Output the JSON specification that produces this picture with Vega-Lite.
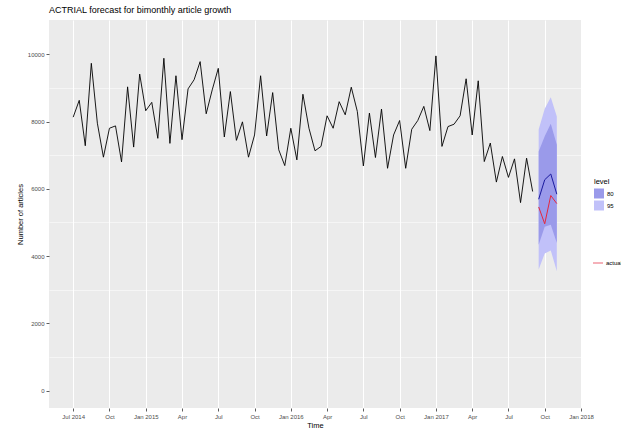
{
  "$schema": "https://vega.github.io/schema/vega-lite/v6.json",
  "width": 532,
  "height": 388,
  "autosize": {"type": "none"},
  "padding": {"left": 49, "top": 20, "right": 40, "bottom": 20},
  "background": "white",
  "title": {
    "text": "ACTRIAL forecast for bimonthly article growth",
    "anchor": "start",
    "frame": "group",
    "fontSize": 9,
    "fontWeight": "normal",
    "color": "#000000",
    "offset": 5
  },
  "config": {
    "font": "Liberation Sans",
    "view": {"fill": "#EBEBEB", "stroke": null},
    "axis": {
      "domain": false,
      "grid": true,
      "gridColor": "#FFFFFF",
      "gridWidth": 1,
      "tickColor": "#333333",
      "tickSize": 3,
      "tickWidth": 0.8,
      "labelFontSize": 6,
      "labelColor": "#4D4D4D",
      "labelPadding": 2,
      "titleFontSize": 7.5,
      "titleFontWeight": "normal",
      "titleColor": "#000000"
    },
    "legend": {
      "padding": 0,
      "labelFontSize": 6,
      "labelColor": "#000000",
      "titleFontSize": 7.5,
      "titleFontWeight": "normal",
      "titleColor": "#000000"
    }
  },
  "datasets": {
    "history": [
      {"time": 2014.5, "articles": 8130},
      {"time": 2014.5417, "articles": 8630},
      {"time": 2014.5833, "articles": 7280},
      {"time": 2014.625, "articles": 9730},
      {"time": 2014.6667, "articles": 7950},
      {"time": 2014.7083, "articles": 6940},
      {"time": 2014.75, "articles": 7800},
      {"time": 2014.7917, "articles": 7870},
      {"time": 2014.8333, "articles": 6800},
      {"time": 2014.875, "articles": 9030},
      {"time": 2014.9167, "articles": 7240},
      {"time": 2014.9583, "articles": 9410},
      {"time": 2015.0, "articles": 8320},
      {"time": 2015.0417, "articles": 8570},
      {"time": 2015.0833, "articles": 7500},
      {"time": 2015.125, "articles": 9880},
      {"time": 2015.1667, "articles": 7350},
      {"time": 2015.2083, "articles": 9360},
      {"time": 2015.25, "articles": 7460},
      {"time": 2015.2917, "articles": 8970},
      {"time": 2015.3333, "articles": 9240},
      {"time": 2015.375, "articles": 9780},
      {"time": 2015.4167, "articles": 8230},
      {"time": 2015.4583, "articles": 8940},
      {"time": 2015.5, "articles": 9580},
      {"time": 2015.5417, "articles": 7540},
      {"time": 2015.5833, "articles": 8890},
      {"time": 2015.625, "articles": 7440},
      {"time": 2015.6667, "articles": 7990},
      {"time": 2015.7083, "articles": 6940},
      {"time": 2015.75, "articles": 7600},
      {"time": 2015.7917, "articles": 9360},
      {"time": 2015.8333, "articles": 7570},
      {"time": 2015.875, "articles": 8860},
      {"time": 2015.9167, "articles": 7160},
      {"time": 2015.9583, "articles": 6690},
      {"time": 2016.0, "articles": 7800},
      {"time": 2016.0417, "articles": 6860},
      {"time": 2016.0833, "articles": 8810},
      {"time": 2016.125, "articles": 7800},
      {"time": 2016.1667, "articles": 7130},
      {"time": 2016.2083, "articles": 7260},
      {"time": 2016.25, "articles": 8170},
      {"time": 2016.2917, "articles": 7800},
      {"time": 2016.3333, "articles": 8590},
      {"time": 2016.375, "articles": 8200},
      {"time": 2016.4167, "articles": 9020},
      {"time": 2016.4583, "articles": 8300},
      {"time": 2016.5, "articles": 6680},
      {"time": 2016.5417, "articles": 8250},
      {"time": 2016.5833, "articles": 6930},
      {"time": 2016.625, "articles": 8370},
      {"time": 2016.6667, "articles": 6610},
      {"time": 2016.7083, "articles": 7600},
      {"time": 2016.75, "articles": 8030},
      {"time": 2016.7917, "articles": 6610},
      {"time": 2016.8333, "articles": 7770},
      {"time": 2016.875, "articles": 8030},
      {"time": 2016.9167, "articles": 8450},
      {"time": 2016.9583, "articles": 7730},
      {"time": 2017.0, "articles": 9950},
      {"time": 2017.0417, "articles": 7260},
      {"time": 2017.0833, "articles": 7850},
      {"time": 2017.125, "articles": 7920},
      {"time": 2017.1667, "articles": 8170},
      {"time": 2017.2083, "articles": 9270},
      {"time": 2017.25, "articles": 7600},
      {"time": 2017.2917, "articles": 9210},
      {"time": 2017.3333, "articles": 6810},
      {"time": 2017.375, "articles": 7360},
      {"time": 2017.4167, "articles": 6200},
      {"time": 2017.4583, "articles": 6960},
      {"time": 2017.5, "articles": 6340},
      {"time": 2017.5417, "articles": 6890},
      {"time": 2017.5833, "articles": 5590},
      {"time": 2017.625, "articles": 6910},
      {"time": 2017.6667, "articles": 5920}
    ],
    "forecast": [
      {"time": 2017.7083, "articles": 5690},
      {"time": 2017.75, "articles": 6270},
      {"time": 2017.7917, "articles": 6440},
      {"time": 2017.8333, "articles": 5840}
    ],
    "actual": [
      {"time": 2017.7083, "articles": 5460},
      {"time": 2017.75, "articles": 4960},
      {"time": 2017.7917, "articles": 5800},
      {"time": 2017.8333, "articles": 5560}
    ],
    "bands": [
      {"time": 2017.7083, "level": "95", "lo": 3600, "hi": 7760},
      {"time": 2017.75, "level": "95", "lo": 4080, "hi": 8380},
      {"time": 2017.7917, "level": "95", "lo": 4170, "hi": 8720},
      {"time": 2017.8333, "level": "95", "lo": 3550, "hi": 8150},
      {"time": 2017.7083, "level": "80", "lo": 4340, "hi": 7110},
      {"time": 2017.75, "level": "80", "lo": 4870, "hi": 7560},
      {"time": 2017.7917, "level": "80", "lo": 4930, "hi": 7930},
      {"time": 2017.8333, "level": "80", "lo": 4390, "hi": 7310}
    ]
  },
  "encoding": {
    "x": {
      "field": "time",
      "type": "quantitative",
      "scale": {"domain": [2014.3333, 2018.0], "nice": false, "zero": false},
      "axis": {
        "title": "Time",
        "titlePadding": 2,
        "values": [2014.5, 2014.75, 2015, 2015.25, 2015.5, 2015.75, 2016, 2016.25, 2016.5, 2016.75, 2017, 2017.25, 2017.5, 2017.75, 2018],
        "labelExpr": "(datum.value % 1 == 0.5 ? 'Jul' : datum.value % 1 == 0.75 ? 'Oct' : datum.value % 1 == 0.25 ? 'Apr' : 'Jan') + ((datum.value % 1 == 0 || datum.value == 2014.5) ? ' ' + floor(datum.value) : '')",
        "labelFlush": false,
        "labelOverlap": false
      }
    }
  },
  "layer": [
    {
      "data": {"name": "bands"},
      "transform": [{"filter": "datum.level == '95'"}],
      "mark": {"type": "area", "opacity": 1},
      "encoding": {
        "y": {
          "field": "lo",
          "type": "quantitative",
          "scale": {"domain": [-514, 11017], "nice": false, "zero": false},
          "axis": {
            "orient": "left",
            "values": [1000, 3000, 5000, 7000, 9000],
            "gridWidth": 0.5,
            "labels": false,
            "ticks": false,
            "title": null
          }
        },
        "y2": {"field": "hi"},
        "fill": {
          "field": "level",
          "type": "nominal",
          "scale": {"domain": ["80", "95"], "range": ["#9A9AEA", "#C1C1F9"]},
          "legend": {
            "title": "level",
            "orient": "none",
            "legendX": 545,
            "legendY": 158,
            "symbolType": "square",
            "symbolSize": 100,
            "symbolStrokeWidth": 0,
            "symbolOpacity": 1,
            "rowPadding": 2,
            "labelOffset": 3,
            "titlePadding": 3
          }
        }
      }
    },
    {
      "data": {"name": "bands"},
      "transform": [{"filter": "datum.level == '80'"}],
      "mark": {"type": "area", "opacity": 1},
      "encoding": {
        "y": {"field": "lo", "type": "quantitative", "axis": null},
        "y2": {"field": "hi"},
        "fill": {"field": "level", "type": "nominal"}
      }
    },
    {
      "data": {"name": "history"},
      "mark": {"type": "line", "color": "#000000", "strokeWidth": 0.9},
      "encoding": {
        "y": {
          "field": "articles",
          "type": "quantitative",
          "axis": {
            "orient": "left",
            "title": "Number of articles",
            "values": [0, 2000, 4000, 6000, 8000, 10000],
            "format": "d",
            "titlePadding": 3
          }
        }
      }
    },
    {
      "data": {"name": "forecast"},
      "mark": {"type": "line", "color": "#1B1B9E", "strokeWidth": 1},
      "encoding": {
        "y": {"field": "articles", "type": "quantitative", "axis": null}
      }
    },
    {
      "data": {"name": "actual"},
      "mark": {"type": "line", "strokeWidth": 1},
      "encoding": {
        "y": {"field": "articles", "type": "quantitative", "axis": null},
        "stroke": {
          "datum": "actual",
          "type": "nominal",
          "scale": {"range": ["#E5283E"]},
          "legend": {
            "title": null,
            "orient": "none",
            "legendX": 543,
            "legendY": 237,
            "symbolType": "stroke",
            "symbolSize": 100,
            "symbolStrokeWidth": 1.2,
            "symbolOpacity": 0.6,
            "labelOffset": 2
          }
        }
      }
    }
  ],
  "resolve": {"axis": {"y": "independent"}}
}
